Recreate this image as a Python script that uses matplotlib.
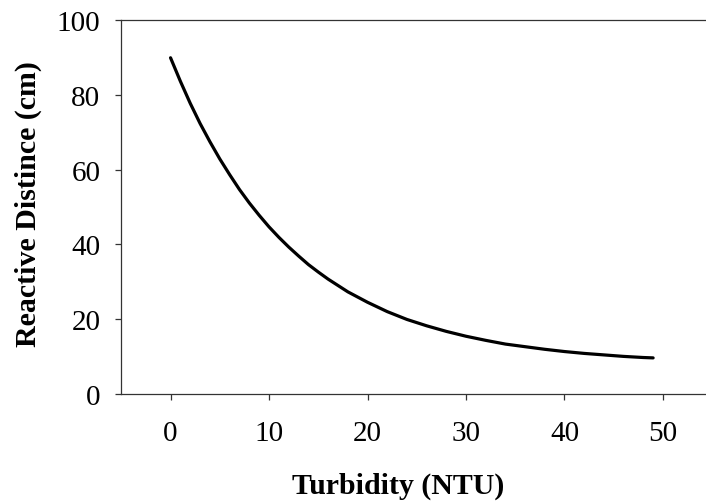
import matplotlib
matplotlib.use("Agg")
import matplotlib.pyplot as plt

# (denser where it bends most)
turbidity = [0, 1, 2, 3, 4, 5, 6, 7, 8, 9, 10, 11, 12, 13, 14, 15, 16, 18,
             20, 22, 24, 26, 28, 30, 32, 34, 36, 38, 40, 42, 44, 46, 48, 49]
reactive_dist = [90.0, 83.7, 77.8, 72.4, 67.5, 62.9, 58.7, 54.7, 51.1, 47.8,
                 44.7, 41.9, 39.3, 36.9, 34.6, 32.6, 30.7, 27.3,
                 24.5, 22.0, 19.9, 18.2, 16.7, 15.4, 14.3, 13.3, 12.6, 11.9,
                 11.3, 10.8, 10.4, 10.0, 9.7, 9.6]

x_ticks = [0, 10, 20, 30, 40, 50]
y_ticks = [0, 20, 40, 60, 80, 100]

plt.rcParams.update({
    "font.family": ["Liberation Serif", "DejaVu Serif"],
    "font.size": 21,
})

fig = plt.figure(figsize=(7.06, 5.02), dpi=100)
# axes runs a few pixels past the right edge, as in the reference
ax = fig.add_axes([0.1718, 0.2137, 0.837, 0.7436])

ax.plot(turbidity, reactive_dist, color="black", linewidth=2.3,
        solid_capstyle="round", solid_joinstyle="round")

ax.set_xlim(-5, 55)
ax.set_ylim(0, 100)
ax.set_xticks(x_ticks)
ax.set_yticks(y_ticks)

for side in ("left", "bottom", "top"):
    ax.spines[side].set_color("#333333")
    ax.spines[side].set_linewidth(0.9)
ax.spines["right"].set_visible(False)

ax.tick_params(direction="out", length=4, width=0.9, color="#333333")
ax.tick_params(axis="x", pad=15)
ax.tick_params(axis="y", pad=11)

ax.set_xlabel("Turbidity (NTU)", fontweight="bold", fontsize=21.5)
ax.set_ylabel("Reactive Distince (cm)", fontweight="bold", fontsize=21.5)
ax.xaxis.set_label_coords(0.468, -0.209)
ax.yaxis.set_label_coords(-0.134, 0.51)

fig.savefig("out.png", dpi=100)
